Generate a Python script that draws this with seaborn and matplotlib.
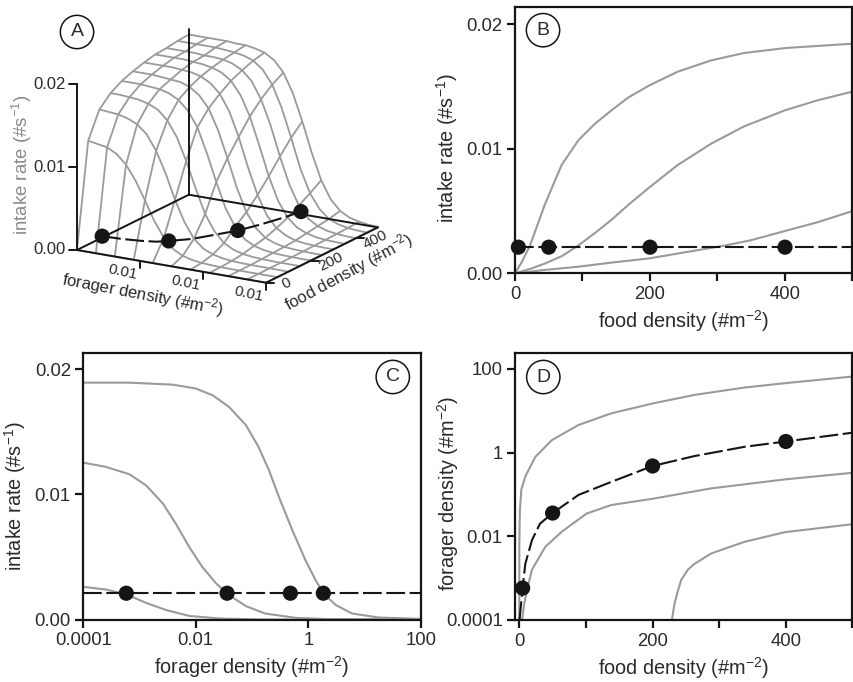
import numpy as np
import pandas as pd
import matplotlib
matplotlib.use("Agg")
import matplotlib.pyplot as plt
import seaborn as sns
from matplotlib.ticker import NullLocator, FixedLocator

# ---------------- data ----------------
# Panel A: intake-rate surface (rows: food density, cols: log10 forager density)
surf_log_forager = [-4.0, -3.7, -3.4, -3.1, -2.8, -2.5, -2.2, -1.9, -1.6, -1.3, -1.0,
                    -0.7, -0.4, -0.1, 0.2, 0.5, 0.8, 1.1, 1.4, 1.7, 2.0]
surf_food = [0, 50, 100, 150, 200, 250, 300, 350, 400, 450, 500]
surf_p000 = [0] * 21
surf_p050 = [0.0125, 0.0123, 0.0121, 0.0115, 0.0104, 0.0087, 0.0065, 0.0042, 0.0024, 0.0012, 0.0006,
             0.0003, 0.00014, 0.00007, 0.00003, 0.00001, 0.00001, 0, 0, 0, 0]
surf_p100 = [0.0156, 0.0155, 0.0154, 0.0151, 0.0146, 0.0136, 0.0118, 0.0093, 0.0063, 0.0038, 0.0020,
             0.0010, 0.0005, 0.00024, 0.00011, 0.00005, 0.00002, 0.00001, 0.00001, 0, 0]
surf_p150 = [0.0169, 0.0169, 0.0168, 0.0167, 0.0164, 0.0159, 0.0148, 0.0130, 0.0103, 0.0072, 0.0043,
             0.0024, 0.0012, 0.0006, 0.00028, 0.00013, 0.00006, 0.00003, 0.00001, 0.00001, 0]
surf_p200 = [0.0177, 0.0177, 0.0177, 0.0176, 0.0175, 0.0172, 0.0166, 0.0155, 0.0137, 0.0108, 0.0075,
             0.0045, 0.0025, 0.0012, 0.0006, 0.00029, 0.00014, 0.00006, 0.00003, 0.00001, 0.00001]
surf_p250 = [0.0182, 0.0182, 0.0182, 0.0181, 0.0180, 0.0179, 0.0175, 0.0167, 0.0153, 0.0129, 0.0097,
             0.0063, 0.0036, 0.0019, 0.0009, 0.00045, 0.0002, 0.0001, 0.00005, 0.00002, 0.00001]
surf_p300 = [0.0186, 0.0186, 0.0186, 0.0186, 0.0185, 0.0184, 0.0181, 0.0175, 0.0164, 0.0145, 0.0116,
             0.0081, 0.0050, 0.0027, 0.0014, 0.0007, 0.0003, 0.00015, 0.00007, 0.00003, 0.00002]
surf_p350 = [0.0189, 0.0189, 0.0189, 0.0189, 0.0188, 0.0187, 0.0185, 0.0181, 0.0173, 0.0158, 0.0134,
             0.0101, 0.0066, 0.0038, 0.0020, 0.0010, 0.0005, 0.00022, 0.0001, 0.00005, 0.00002]
surf_p400 = [0.0190, 0.0190, 0.0190, 0.0190, 0.0189, 0.0189, 0.0188, 0.0185, 0.0179, 0.0168, 0.0148,
             0.0119, 0.0083, 0.0051, 0.0028, 0.0014, 0.0007, 0.00033, 0.00015, 0.00007, 0.00003]
surf_p450 = [0.0192, 0.0192, 0.0192, 0.0192, 0.0192, 0.0191, 0.0190, 0.0188, 0.0184, 0.0175, 0.0159,
             0.0133, 0.0099, 0.0063, 0.0036, 0.0019, 0.0009, 0.00044, 0.0002, 0.0001, 0.00005]
surf_p500 = [0.0193, 0.0193, 0.0193, 0.0193, 0.0193, 0.0192, 0.0192, 0.0190, 0.0187, 0.0180, 0.0167,
             0.0144, 0.0112, 0.0076, 0.0045, 0.0024, 0.0012, 0.00058, 0.0003, 0.00013, 0.00006]

# equilibrium (ideal free) points
eq_intake = 0.0021
eq_food = [5, 50, 200, 400]
eq_forager = [0.00058, 0.036, 0.48, 1.85]

# Panel B: intake vs food density for three forager densities
b1_food = [0, 10, 22, 44, 69, 94, 118, 143, 167, 199, 241, 290, 339, 400, 500]
b1_intake = [0, 0.0009, 0.0022, 0.0055, 0.0087, 0.0107, 0.0120, 0.0131, 0.0141, 0.0151, 0.0162, 0.0171, 0.0177, 0.0181, 0.01845]
b2_food = [0, 25, 45, 70, 93, 120, 143, 170, 199, 241, 290, 339, 400, 448, 500]
b2_intake = [0, 0.0004, 0.0008, 0.0014, 0.0022, 0.0033, 0.0043, 0.0056, 0.0069, 0.0087, 0.0104, 0.0118, 0.0131, 0.0139, 0.0146]
b3_food = [0, 44, 94, 143, 199, 251, 310, 349, 400, 448, 500]
b3_intake = [0, 0.00027, 0.00053, 0.00086, 0.0012, 0.00168, 0.00222, 0.00265, 0.0034, 0.0041, 0.0050]

# Panel C: intake vs forager density for three food densities
c1_forager = [0.0001, 0.00066, 0.0039, 0.01, 0.02, 0.039, 0.078, 0.13, 0.2, 0.3, 0.52, 0.89, 1.35, 1.9, 3.1, 6.0, 17.8, 100]
c1_intake = [0.01893, 0.01893, 0.01877, 0.01846, 0.01792, 0.01699, 0.01553, 0.0138, 0.01193, 0.0098, 0.00714, 0.00474, 0.00314, 0.00202, 0.00115, 0.00048, 0.00016, 0.00005]
c2_forager = [0.0001, 0.00025, 0.00066, 0.0013, 0.0026, 0.0044, 0.0076, 0.013, 0.023, 0.037, 0.078, 0.17, 0.6, 2.3, 100]
c2_intake = [0.01254, 0.0122, 0.01161, 0.01073, 0.00927, 0.00767, 0.00581, 0.00421, 0.00288, 0.00202, 0.00107, 0.00048, 0.00013, 0.00003, 0.0]
c3_forager = [0.0001, 0.00025, 0.00058, 0.0013, 0.003, 0.0076, 0.026, 0.15, 100]
c3_intake = [0.00261, 0.0024, 0.00202, 0.00133, 0.00075, 0.00029, 0.00008, 0.0, 0.0]

# Panel D: forager density vs food density
d1_food = [0, 0, 0.5, 1, 3, 9, 24, 49, 89, 138, 201, 263, 338, 400, 500]
d1_forager = [0.0001, 0.0047, 0.02, 0.043, 0.13, 0.27, 0.79, 2.0, 4.6, 8.7, 15.1, 24, 36, 46, 66]
d2_food = [4, 7.5, 11.5, 19, 39, 64, 101, 138, 200, 288, 399, 500]
d2_forager = [0.0001, 0.00025, 0.00052, 0.0016, 0.0056, 0.013, 0.035, 0.056, 0.079, 0.14, 0.23, 0.33]
d3_food = [229, 231, 233, 238, 243, 253, 263, 288, 338, 399, 500]
d3_forager = [0.0001, 0.00016, 0.00025, 0.0005, 0.00091, 0.0016, 0.0022, 0.0039, 0.0074, 0.0126, 0.0195]
deq_food = [0.3, 5, 9, 19, 31, 50, 89, 138, 200, 263, 338, 400, 500]
deq_forager = [0.0001, 0.00058, 0.0022, 0.0081, 0.020, 0.036, 0.098, 0.20, 0.48, 0.83, 1.38, 1.85, 3.0]

# ---------------- style ----------------
sns.set_theme(style="ticks")
plt.rcParams["font.family"] = ["Liberation Sans", "DejaVu Sans"]
plt.rcParams["mathtext.default"] = "regular"
GREY = "#9a9a9a"
INK = "#151515"
TXT = "#2a2a2a"
DASH = (0, (9, 2.2))
W, H = 854, 682

fig = plt.figure(figsize=(W / 100, H / 100), dpi=100)


def style_ax(ax):
    for s in ax.spines.values():
        s.set_visible(True)
        s.set_linewidth(1.6)
        s.set_color(INK)
    ax.tick_params(direction="out", length=6, width=1.6, labelsize=13.3,
                   colors=INK, labelcolor=TXT, pad=3)
    ax.grid(False)


CIRC = dict(boxstyle="circle,pad=0.42", fc="white", ec=INK, lw=1.1)


def letter(ax, x, y, s):
    ax.text(x, y, s, transform=ax.transAxes, ha="center", va="center",
            fontsize=14, color=TXT, bbox=CIRC)


# ---------------- panel B ----------------
axB = fig.add_axes([515 / W, 1 - 273.3 / H, 337.5 / W, 266.3 / H])
for fx, iy in [(b1_food, b1_intake), (b2_food, b2_intake), (b3_food, b3_intake)]:
    sns.lineplot(x=fx, y=iy, ax=axB, color=GREY, lw=1.5, sort=False, estimator=None)
sns.lineplot(x=[0, 500], y=[eq_intake, eq_intake], ax=axB, color=INK, lw=1.5,
             linestyle=DASH, estimator=None)
sns.scatterplot(x=eq_food, y=[eq_intake] * 4, ax=axB, s=120, color=INK,
                edgecolor="none", zorder=5, clip_on=False)
axB.set_xlim(0, 500)
axB.set_ylim(0, 0.0214)
axB.set_xticks([0, 100, 200, 300, 400, 500])
axB.set_xticklabels(["0", "", "200", "", "400", ""])
axB.set_yticks([0, 0.01, 0.02])
axB.set_yticklabels(["0.00", "0.01", "0.02"])
style_ax(axB)
axB.set_xlabel("food density (#m$^{-2}$)", fontsize=14.3, color=TXT, labelpad=4)
axB.set_ylabel("intake rate (#s$^{-1}$)", fontsize=14.3, color=TXT)
axB.yaxis.set_label_coords(-0.163, 0.47)
letter(axB, 0.083, 0.913, "B")

# ---------------- panel C ----------------
axC = fig.add_axes([83.3 / W, 1 - 619.5 / H, 337.5 / W, 266.5 / H])
for fx, iy in [(c1_forager, c1_intake), (c2_forager, c2_intake), (c3_forager, c3_intake)]:
    sns.lineplot(x=fx, y=iy, ax=axC, color=GREY, lw=1.5, sort=False, estimator=None)
sns.lineplot(x=[0.0001, 100], y=[eq_intake, eq_intake], ax=axC, color=INK, lw=1.5,
             linestyle=DASH, estimator=None)
sns.scatterplot(x=eq_forager, y=[eq_intake] * 4, ax=axC, s=120, color=INK,
                edgecolor="none", zorder=5, clip_on=False)
axC.set_xscale("log")
axC.set_xlim(0.0001, 100)
axC.set_ylim(0, 0.0213)
axC.xaxis.set_major_locator(FixedLocator([0.0001, 0.01, 1, 100]))
axC.xaxis.set_minor_locator(NullLocator())
axC.set_xticklabels(["0.0001", "0.01", "1", "100"])
axC.set_yticks([0, 0.01, 0.02])
axC.set_yticklabels(["0.00", "0.01", "0.02"])
style_ax(axC)
axC.set_xlabel("forager density (#m$^{-2}$)", fontsize=14.3, color=TXT, labelpad=4)
axC.set_ylabel("intake rate (#s$^{-1}$)", fontsize=14.3, color=TXT)
axC.yaxis.set_label_coords(-0.164, 0.465)
letter(axC, 0.917, 0.910, "C")

# ---------------- panel D ----------------
axD = fig.add_axes([515.3 / W, 1 - 620 / H, 337.2 / W, 267 / H])
for fx, fy in [(d1_food, d1_forager), (d2_food, d2_forager), (d3_food, d3_forager)]:
    sns.lineplot(x=fx, y=fy, ax=axD, color=GREY, lw=1.5, sort=False, estimator=None)
sns.lineplot(x=deq_food, y=deq_forager, ax=axD, color=INK, lw=1.5, linestyle=DASH,
             sort=False, estimator=None)
sns.scatterplot(x=eq_food, y=eq_forager, ax=axD, s=120, color=INK,
                edgecolor="none", zorder=5, clip_on=False)
axD.set_yscale("log")
axD.set_xlim(-6, 500)
axD.set_ylim(0.0001, 241)
axD.set_xticks([0, 100, 200, 300, 400, 500])
axD.set_xticklabels(["0", "", "200", "", "400", ""])
axD.yaxis.set_major_locator(FixedLocator([0.0001, 0.01, 1, 100]))
axD.yaxis.set_minor_locator(NullLocator())
axD.set_yticklabels(["0.0001", "0.01", "1", "100"])
style_ax(axD)
axD.set_xlabel("food density (#m$^{-2}$)", fontsize=14.3, color=TXT, labelpad=4)
axD.set_ylabel("forager density (#m$^{-2}$)", fontsize=14.3, color=TXT)
axD.yaxis.set_label_coords(-0.16, 0.476)
letter(axD, 0.083, 0.91, "D")

# ---------------- panel A (3-D surface) ----------------
S = 340.0
axA_left, axA_bottom = 0.0, H - 340.0
axA = fig.add_axes([axA_left / W, axA_bottom / H, S / W, S / H],
                   projection="3d", computed_zorder=False)
axA.set_proj_type("ortho")
axA.view_init(elev=17, azim=-59.4)
zoomA = 1.0
ZASP = 0.79
axA.set_box_aspect((1, 1, ZASP), zoom=zoomA)
axA.set_axis_off()
axA.set_xlim(-4, 2)
axA.set_ylim(0, 500)
axA.set_zlim(0, 0.02)


def disp(x, y, z):
    M = axA.get_proj()
    v = M @ np.array([x, y, z, 1.0])
    return np.asarray(axA.transData.transform((v[0] / v[3], v[1] / v[3])))


# fit the projected floor to the reference layout (left corner / right corner)
tgt_L = np.array([77.0, H - 250.0])
tgt_R = np.array([378.0, H - 228.0])
for _ in range(3):
    cur_L, cur_R = disp(-4, 0, 0), disp(2, 500, 0)
    zoomA *= np.linalg.norm(tgt_R - tgt_L) / np.linalg.norm(cur_R - cur_L)
    axA.set_box_aspect((1, 1, ZASP), zoom=zoomA)
    cur_L = disp(-4, 0, 0)
    axA_left += tgt_L[0] - cur_L[0]
    axA_bottom += tgt_L[1] - cur_L[1]
    axA.set_position([axA_left / W, axA_bottom / H, S / W, S / H])

Xg, Yg = np.meshgrid(surf_log_forager, surf_food)
Zg = np.array([surf_p000, surf_p050, surf_p100, surf_p150, surf_p200, surf_p250,
               surf_p300, surf_p350, surf_p400, surf_p450, surf_p500])
axA.plot_wireframe(Xg, Yg, Zg, rstride=1, cstride=2, color=GREY, linewidth=1.3, zorder=1)

lk = dict(color=INK, lw=1.4, zorder=3)
axA.plot([-4, 2], [0, 0], [0, 0], **lk)
axA.plot([2, 2], [0, 500], [0, 0], **lk)
axA.plot([-4, -4], [0, 500], [0, 0], **lk)
axA.plot([-4, 2], [500, 500], [0, 0], **lk)
axA.plot([-4, -4], [500, 500], [0, 0.02], **lk)
axA.plot([-4, -4], [0, 0], [0, 0.02], **lk)

# screen basis (pixels per data unit) on the floor
o = disp(-4, 0, 0)
ex = disp(-3, 0, 0) - o
ey = disp(-4, 1, 0) - o
Mscr = np.column_stack([ex, ey])


def off(dx, dy):
    return np.linalg.solve(Mscr, [dx, dy])


ang_x = np.degrees(np.arctan2(ex[1], ex[0]))
ang_y = np.degrees(np.arctan2(ey[1], ey[0]))


def ftext(p, dx, dy, s, **kw):
    fig.text((p[0] + dx) / W, (p[1] + dy) / H, s, **kw)


# z axis ticks and labels
a, b = off(-8, 0)
for zt, zl in zip([0, 0.01, 0.02], ["0.00", "0.01", "0.02"]):
    axA.plot([-4, -4 + a], [0, b], [zt, zt], **lk)
    ftext(disp(-4, 0, zt), -11, 0, zl, ha="right", va="center", fontsize=12, color=TXT)
# forager axis
a, b = off(0, -7)
for xt in [-2, 0, 2]:
    axA.plot([xt, xt + a], [0, b], [0, 0], **lk)
    ftext(disp(xt, 0, 0), -17, -11, "0.01", ha="center", va="center", fontsize=11,
          color=TXT, rotation=ang_x - 2, rotation_mode="anchor")
ftext(disp(-1.92, 0, 0), 0, -33, "forager density (#m$^{-2}$)", ha="center", va="center",
      fontsize=12, color=TXT, rotation=ang_x - 1, rotation_mode="anchor")
# food axis
a, b = off(8, 0)
for yt, yl in zip([0, 200, 400], ["0", "200", "400"]):
    axA.plot([2, 2 + a], [yt, yt + b], [0, 0], **lk)
    ftext(disp(2, yt, 0), 20, -1, yl, ha="center", va="center", fontsize=11,
          color=TXT, rotation=ang_y, rotation_mode="anchor")
ftext(disp(2, 347, 0), 5, -28, "food density (#m$^{-2}$)", ha="center", va="center",
      fontsize=12, color=TXT, rotation=ang_y + 2, rotation_mode="anchor")

# equilibrium curve on the surface
eq_sel = [i for i, f in enumerate(deq_food) if 5 <= f <= 400]
axA.plot([np.log10(deq_forager[i]) for i in eq_sel], [deq_food[i] for i in eq_sel],
         [eq_intake] * len(eq_sel), color=INK, lw=1.5, linestyle=DASH, zorder=4)
axA.scatter(np.log10(eq_forager), eq_food, [eq_intake] * 4, s=120, c=INK,
            depthshade=False, zorder=5, edgecolors="none")

fig.text(22 / W, 1 - 165 / H, "intake rate (#s$^{-1}$)", rotation=90,
         ha="center", va="center", fontsize=13.4, color="#8a8a8a")
fig.text(77 / W, 1 - 32 / H, "A", ha="center", va="center", fontsize=14, color=TXT,
         bbox=CIRC)

fig.savefig("out.png", dpi=100)
